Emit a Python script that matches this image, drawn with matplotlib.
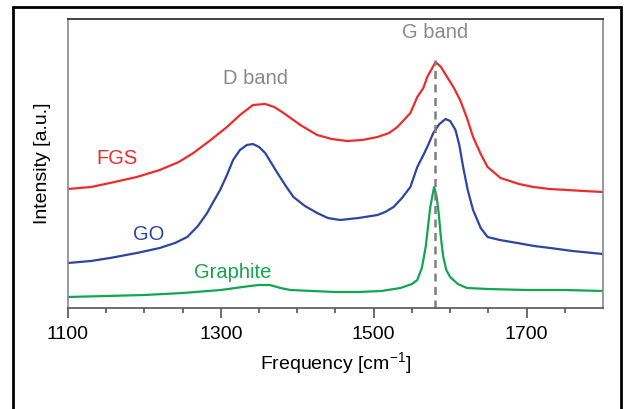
import matplotlib
matplotlib.use("Agg")
import matplotlib.pyplot as plt
from matplotlib.patches import Rectangle

plt.rcParams["font.family"] = ["Liberation Sans", "DejaVu Sans"]

# Raman spectra (intensity in arbitrary units)
fgs_x = [1100, 1130, 1155, 1190, 1220, 1245, 1264, 1285, 1308, 1325, 1342, 1358,
         1370, 1382, 1404, 1426, 1445, 1465, 1485, 1505, 1520, 1531, 1548, 1557,
         1565, 1570, 1581, 1588, 1596, 1605, 1613, 1622, 1630, 1640, 1649, 1666,
         1690, 1709, 1730, 1753, 1775, 1800]
fgs_y = [119, 121, 125, 131, 138, 146, 155, 167, 181, 193, 203, 204,
         201, 195, 183, 173, 169, 167, 168, 171, 175, 181, 195, 211,
         220, 231, 246, 241, 231, 220, 208, 190, 171, 154, 141, 130,
         124, 121, 119, 118, 117, 116]

go_x = [1100, 1130, 1155, 1190, 1220, 1240, 1256, 1270, 1282, 1290, 1299, 1308,
        1316, 1325, 1334, 1342, 1350, 1358, 1366, 1374, 1385, 1395, 1410, 1426,
        1440, 1456, 1480, 1505, 1515, 1526, 1537, 1548, 1557, 1565, 1570, 1578,
        1586, 1594, 1600, 1607, 1612, 1617, 1623, 1630, 1640, 1649, 1665, 1688,
        1710, 1731, 1760, 1800]
go_y = [45, 47, 50, 55, 60, 65, 71, 82, 95, 106, 118, 133,
        148, 158, 163, 164, 161, 155, 145, 135, 122, 111, 102, 95,
        90, 88, 90, 93, 96, 101, 110, 121, 141, 153, 161, 175,
        184, 189, 187, 178, 163, 141, 118, 98, 80, 71, 68, 65,
        62, 60, 57, 54]

gr_x = [1100, 1150, 1200, 1250, 1300, 1338, 1350, 1364, 1378, 1391, 1420, 1450,
        1480, 1510, 1535, 1550, 1557, 1563, 1568, 1574, 1579, 1582, 1585, 1588,
        1591, 1595, 1600, 1610, 1622, 1650, 1700, 1750, 1800]
gr_y = [11, 12, 13, 15, 18, 22, 23, 23, 20, 18, 17, 16,
        16, 17, 20, 24, 28, 40, 61, 101, 121, 113, 95, 70,
        51, 38, 31, 24, 20, 19, 18, 18, 17]

g_band = 1580

fig = plt.figure(figsize=(6.25, 4.09), dpi=100)
fig.patches.append(Rectangle((13 / 625, -0.05), 608 / 625, 1 - 7 / 409 + 0.05,
                             transform=fig.transFigure, fill=False,
                             edgecolor="black", linewidth=2))
ax = fig.add_axes([68 / 625, 1 - 308 / 409, 535 / 625, 289 / 409])

ax.plot(fgs_x, fgs_y, color="#ee2b2b", lw=1.6)
ax.plot(go_x, go_y, color="#2b45a6", lw=1.6)
ax.plot(gr_x, gr_y, color="#12a650", lw=1.6)
ax.plot([g_band, g_band], [0, 248], color="#7f7f7f", lw=1.8,
        linestyle=(0, (3.2, 2.2)))

ax.text(1164, 150, "FGS", color="#ee2b2b", fontsize=14.5, ha="center", va="center")
ax.text(1205, 73, "GO", color="#2b45a6", fontsize=14.5, ha="center", va="center")
ax.text(1316, 36, "Graphite", color="#12a650", fontsize=14.5, ha="center", va="center")
ax.text(1345, 230, "D band", color="#8a8a8a", fontsize=14.5, ha="center", va="center")
ax.text(g_band, 275, "G band", color="#8a8a8a", fontsize=14.5, ha="center", va="center")

ax.set_xlim(1100, 1800)
ax.set_ylim(0, 289)
ax.set_xticks([1100, 1300, 1500, 1700])
ax.set_xticks(range(1150, 1800, 50), minor=True)
ax.set_yticks([])
ax.tick_params(axis="x", which="major", direction="out", length=7, width=1.2,
               color="#555555", labelsize=14, pad=6)
ax.tick_params(axis="x", which="minor", direction="out", length=3.6, width=1.2,
               color="#555555")
ax.set_xlabel("Frequency [cm$^{\\mathregular{-1}}$]", fontsize=14, labelpad=5)
ax.set_ylabel("Intensity [a.u.]", fontsize=14, labelpad=12)

ax.spines["top"].set_color("#222222")
ax.spines["bottom"].set_color("#555555")
ax.spines["left"].set_color("#888888")
ax.spines["right"].set_color("#888888")
for s in ax.spines.values():
    s.set_linewidth(1.2)

fig.savefig("out.png", dpi=100)
